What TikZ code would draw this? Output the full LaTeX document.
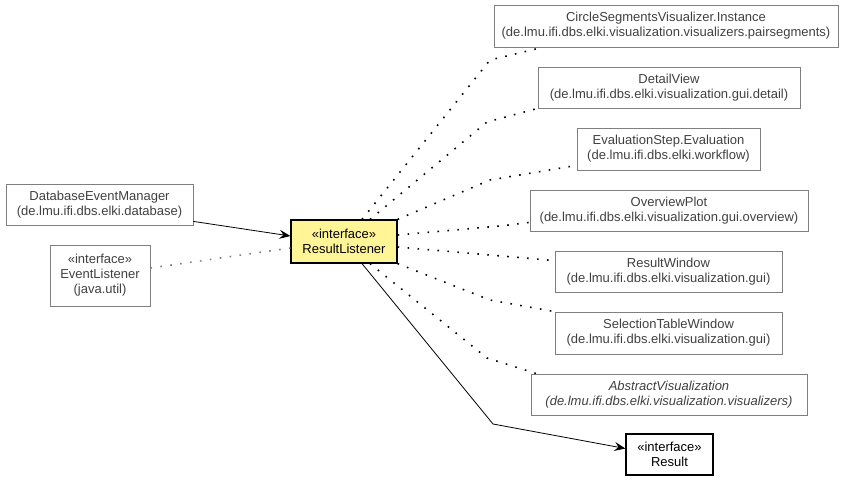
\documentclass[tikz,border=0pt]{standalone}
\usepackage{fontspec}
\setmainfont{Liberation Sans}
\usepackage{tikz}
\usetikzlibrary{arrows.meta, positioning}
\definecolor{boxgray}{HTML}{7F7F7F}
\definecolor{txtgray}{HTML}{404040}
\definecolor{ifyellow}{HTML}{FFF597}

\begin{document}
\begin{tikzpicture}[x=1pt, y=-1pt, >={Stealth[length=11pt, width=9pt, inset=4pt]},
    cls/.style={draw=boxgray, line width=0.8pt, text=txtgray, align=center, inner sep=0pt, font=\fontsize{13}{15}\selectfont},
    iface/.style={cls, draw=black, text=black, line width=1.2pt},
    impl/.style={line width=1.6pt, dash pattern=on 1.6pt off 8.4pt},
    assoc/.style={->, line width=0.8pt}
]
\useasboundingbox (0,0) rectangle (851,483);

% Nodes
\node[iface, fill=ifyellow, minimum width=106, minimum height=43] (rl) at (344,241.5) {«interface»\\ResultListener};
\node[cls, minimum width=187, minimum height=41] (dem) at (99.5,204.5) {DatabaseEventManager\\(de.lmu.ifi.dbs.elki.database)};
\node[cls, minimum width=100, minimum height=61] (el) at (100,275.5) {«interface»\\EventListener\\(java.util)};

\node[cls, minimum width=344, minimum height=42] (csv) at (666,26) {CircleSegmentsVisualizer.Instance\\(de.lmu.ifi.dbs.elki.visualization.visualizers.pairsegments)};
\node[cls, minimum width=262, minimum height=41] (dv) at (669,87.5) {DetailView\\(de.lmu.ifi.dbs.elki.visualization.gui.detail)};
\node[cls, minimum width=183, minimum height=42] (ese) at (668.5,149) {EvaluationStep.Evaluation\\(de.lmu.ifi.dbs.elki.workflow)};
\node[cls, minimum width=278, minimum height=41] (op) at (669,210.5) {OverviewPlot\\(de.lmu.ifi.dbs.elki.visualization.gui.overview)};
\node[cls, minimum width=227, minimum height=41] (rw) at (668.5,271.5) {ResultWindow\\(de.lmu.ifi.dbs.elki.visualization.gui)};
\node[cls, minimum width=227, minimum height=42] (stw) at (668.5,333) {SelectionTableWindow\\(de.lmu.ifi.dbs.elki.visualization.gui)};
\node[cls, minimum width=276, minimum height=41, font=\fontsize{13}{15}\selectfont\itshape] (av) at (669,394.5) {AbstractVisualization\\(de.lmu.ifi.dbs.elki.visualization.visualizers)};
\node[iface, minimum width=87, minimum height=41] (res) at (669.5,454.5) {«interface»\\Result};

% Connections
\draw[assoc] ([yshift=4]dem.south east) -- ([yshift=5.5]rl.west);
\draw[impl, boxgray] ([yshift=7.5]el.east) -- ([yshift=-6.5]rl.west);

\draw[impl] ([xshift=18]rl.north) -- (490,60) -- ([xshift=49]csv.south west);
\draw[impl] ([xshift=26]rl.north) -- (487,122) -- (dv.south west);
\draw[impl] (rl.north east) -- (490,180) -- ([yshift=5]ese.south west);
\draw[impl] ([yshift=6.5]rl.east) -- (500,226) -- ([yshift=9]op.south west);
\draw[impl] ([yshift=-5.5]rl.east) -- ([yshift=-10]rw.north west);
\draw[impl] (rl.south east) -- (490,300) -- (stw.north west);
\draw[impl] ([xshift=26]rl.south) -- (487,358) -- ([xshift=6]av.north west);

\draw[assoc] ([xshift=18]rl.south) -- (493,424) -- ([yshift=6]res.west);

\end{tikzpicture}
\end{document}
